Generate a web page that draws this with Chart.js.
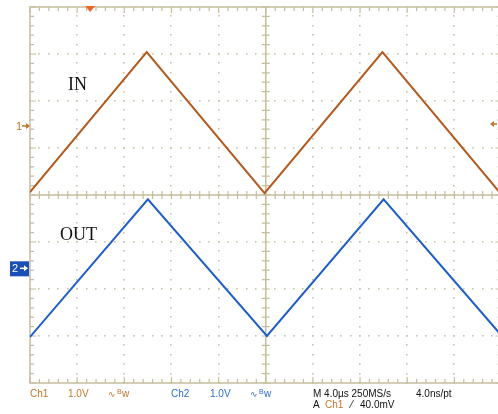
<!DOCTYPE html>
<html>
<head>
<meta charset="utf-8">
<script src="https://cdn.jsdelivr.net/npm/chart.js@4/dist/chart.umd.min.js"></script>
<style>
  html, body { margin: 0; padding: 0; background: #fff; overflow: hidden; }
  #wrap { position: relative; width: 504px; height: 414px; }
</style>
</head>
<body>
<div id="wrap"><canvas id="scope" width="504" height="414"></canvas></div>
<script>
// Ch1 (IN) and Ch2 (OUT) triangle waves, time in µs, level in V (1 V/div, 4 µs/div)
const ch1Time = [-20, -10.1, -0.1, 9.9, 19.9, 20];
const ch1Volts = [-1.41, 1.57, -1.43, 1.57, -1.43, -1.40];
const ch2Time = [-20, -10.0, 0.1, 10.0, 20];
const ch2Volts = [-1.46, 1.47, -1.44, 1.47, -1.43];

// channel ground positions (divisions above screen centre) and trigger
const ch1Ground = 1.47;
const ch2Ground = -1.56;
const trigLevel = 0.04;      // V on Ch1
const trigPos = -14.9;       // µs, marker on top edge

const labelFont = '10px "Liberation Sans", Arial, sans-serif';
const tan = '#c6bd9f';
const dotTan = '#cbc2a8';
const brown = '#b35a1f';
const blue = '#1f5ec6';
const ch1Text = '#c0772a';
const ch2Text = '#2d6fd2';

const graticule = {
    id: 'graticule',
    beforeDatasetsDraw(chart) {
        const { ctx, chartArea: a } = chart;
        const x = chart.scales.x, y = chart.scales.y;
        ctx.save();
        // dotted division lines
        ctx.fillStyle = dotTan;
        for (let d = -3; d <= 3; d++) {
            if (d === 0) continue;
            const py = y.getPixelForValue(d);
            for (let t = -20; t <= 20; t += 0.8) {
                ctx.fillRect(Math.round(x.getPixelForValue(t)) - 1, Math.round(py) - 1, 1.6, 1.6);
            }
        }
        for (let t = -16; t <= 16; t += 4) {
            if (t === 0) continue;
            const px = x.getPixelForValue(t);
            for (let d = -4; d <= 4; d += 0.2) {
                ctx.fillRect(Math.round(px) - 1, Math.round(y.getPixelForValue(d)) - 1, 1.6, 1.6);
            }
        }
        // border and centre cross
        ctx.strokeStyle = tan;
        ctx.lineWidth = 1.5;
        ctx.strokeRect(a.left, a.top, a.right - a.left, a.bottom - a.top);
        const cx = x.getPixelForValue(0), cy = y.getPixelForValue(0);
        ctx.beginPath();
        ctx.moveTo(a.left, cy); ctx.lineTo(a.right, cy);
        ctx.moveTo(cx, a.top); ctx.lineTo(cx, a.bottom);
        ctx.stroke();
        // ticks every 0.2 div
        ctx.lineWidth = 1.2;
        ctx.beginPath();
        for (let i = 0; i <= 50; i++) {
            const t = -20 + i * 0.8;
            const px = x.getPixelForValue(t);
            const len = i % 5 === 0 ? 6 : 4;
            ctx.moveTo(px, a.top); ctx.lineTo(px, a.top + len);
            ctx.moveTo(px, a.bottom); ctx.lineTo(px, a.bottom - len);
            ctx.moveTo(px, cy - 4); ctx.lineTo(px, cy + 4);
        }
        for (let i = 0; i <= 40; i++) {
            const d = -4 + i * 0.2;
            const py = y.getPixelForValue(d);
            const len = i % 5 === 0 ? 6 : 4;
            ctx.moveTo(a.left, py); ctx.lineTo(a.left + len, py);
            ctx.moveTo(a.right, py); ctx.lineTo(a.right - len, py);
            ctx.moveTo(cx - 4, py); ctx.lineTo(cx + 4, py);
        }
        ctx.stroke();
        ctx.restore();
    },
    afterDraw(chart) {
        const { ctx, chartArea: a } = chart;
        const x = chart.scales.x, y1 = chart.scales.y1, y2 = chart.scales.y2;
        ctx.save();
        // IN / OUT captions
        ctx.fillStyle = '#111';
        ctx.font = '18px "Liberation Serif", "Times New Roman", serif';
        ctx.textBaseline = 'alphabetic';
        ctx.fillText('IN', 68, 90);
        ctx.fillText('OUT', 60, 240);

        // Ch1 ground marker
        const g1 = y1.getPixelForValue(0);
        ctx.fillStyle = ch1Text;
        ctx.strokeStyle = ch1Text;
        ctx.font = '11px "Liberation Sans", Arial, sans-serif';
        ctx.fillText('1', 16, g1 + 4);
        ctx.lineWidth = 1.5;
        ctx.beginPath(); ctx.moveTo(22, g1); ctx.lineTo(27, g1); ctx.stroke();
        ctx.beginPath(); ctx.moveTo(30, g1); ctx.lineTo(26, g1 - 3); ctx.lineTo(26, g1 + 3); ctx.fill();

        // trigger level arrow on right edge
        const tl = y1.getPixelForValue(trigLevel);
        ctx.beginPath(); ctx.moveTo(492, tl); ctx.lineTo(497, tl); ctx.stroke();
        ctx.beginPath(); ctx.moveTo(490, tl); ctx.lineTo(494, tl - 3); ctx.lineTo(494, tl + 3); ctx.fill();

        // trigger position marker
        const tp = x.getPixelForValue(trigPos);
        ctx.fillStyle = '#f0642a';
        ctx.beginPath(); ctx.moveTo(tp - 5, a.top - 1); ctx.lineTo(tp + 5, a.top - 1); ctx.lineTo(tp, a.top + 5); ctx.fill();

        // Ch2 ground marker box
        const g2 = y2.getPixelForValue(0);
        ctx.fillStyle = '#1a4fb6';
        ctx.fillRect(10, g2 - 7, 19, 15);
        ctx.fillStyle = '#fff';
        ctx.strokeStyle = '#fff';
        ctx.fillText('2', 12, g2 + 4);
        ctx.beginPath(); ctx.moveTo(20, g2); ctx.lineTo(25, g2); ctx.stroke();
        ctx.beginPath(); ctx.moveTo(28, g2); ctx.lineTo(24, g2 - 3); ctx.lineTo(24, g2 + 3); ctx.fill();

        // readout line 1
        const bw = (px, col) => {
            ctx.fillStyle = col;
            ctx.font = '9px "DejaVu Sans", sans-serif';
            ctx.fillText('∿', px, 397);
            ctx.font = '7px "Liberation Sans", Arial, sans-serif';
            ctx.fillText('B', px + 9, 394);
            ctx.font = labelFont;
            ctx.fillText('w', px + 14, 397);
        };
        ctx.font = labelFont;
        ctx.fillStyle = ch1Text;
        ctx.fillText('Ch1', 30, 397);
        ctx.fillText('1.0V', 68, 397);
        bw(108, ch1Text);
        ctx.fillStyle = ch2Text;
        ctx.fillText('Ch2', 171, 397);
        ctx.fillText('1.0V', 210, 397);
        bw(250, ch2Text);
        ctx.fillStyle = '#111';
        ctx.fillText('M 4.0µs 250MS/s', 313, 397);
        ctx.fillText('4.0ns/pt', 416, 397);
        // readout line 2
        ctx.fillText('A', 313, 408);
        ctx.fillStyle = ch1Text;
        ctx.fillText('Ch1', 325, 408);
        ctx.fillStyle = '#111';
        ctx.fillText('⁄', 351, 408);
        ctx.fillText('40.0mV', 360, 408);
        ctx.restore();
    }
};

new Chart(document.getElementById('scope').getContext('2d'), {
    type: 'scatter',
    data: {
        datasets: [{
            label: 'IN',
            data: ch1Time.map((t, i) => ({ x: t, y: ch1Volts[i] })),
            yAxisID: 'y1',
            showLine: true,
            borderColor: brown,
            borderWidth: 2,
            pointRadius: 0
        }, {
            label: 'OUT',
            data: ch2Time.map((t, i) => ({ x: t, y: ch2Volts[i] })),
            yAxisID: 'y2',
            showLine: true,
            borderColor: blue,
            borderWidth: 2,
            pointRadius: 0
        }]
    },
    options: {
        responsive: false,
        animation: false,
        layout: { padding: { left: 30, top: 7, right: 2.5, bottom: 31 } },
        plugins: { legend: { display: false }, tooltip: { enabled: false } },
        scales: {
            x: { type: 'linear', min: -20, max: 20, display: false },
            y: { min: -4, max: 4, display: false },
            y1: { min: -4 - ch1Ground, max: 4 - ch1Ground, display: false },
            y2: { min: -4 - ch2Ground, max: 4 - ch2Ground, display: false }
        }
    },
    plugins: [graticule]
});
</script>
</body>
</html>
